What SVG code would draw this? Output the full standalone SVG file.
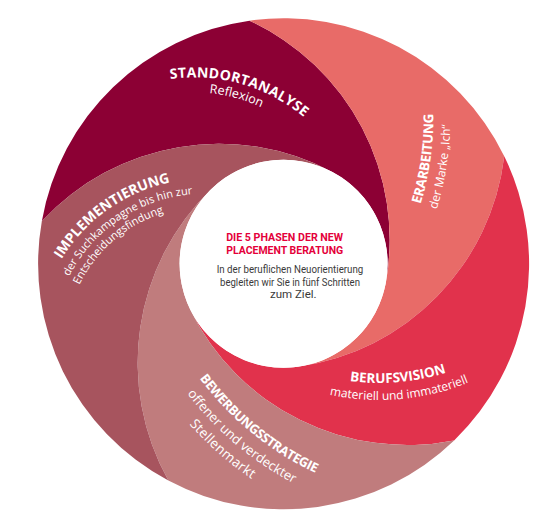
<svg xmlns="http://www.w3.org/2000/svg" width="559" height="519" viewBox="0 0 559 519">
<style>
.t{font-family:"Open Sans","Noto Sans",sans-serif;font-weight:700;fill:#fff}
.s{font-family:"Open Sans","Noto Sans",sans-serif;font-weight:400;fill:#fff}
.ct{font-family:Roboto,"Open Sans",sans-serif;font-weight:700;fill:#e4003a;font-size:10.3px}
.cb{font-family:Roboto,"Open Sans",sans-serif;font-weight:400;fill:#3a3a3a;font-size:11.5px}
</style>
<defs>
<path id="pStand" d="M 110.51 98.87 A 172 172 0 0 1 344.33 165.91"/>
<path id="pRefl" d="M 116.59 112.65 A 157 157 0 0 1 330.55 171.99"/>
<path id="pErar" d="M 393.1 267.9 A 300 300 0 0 0 424.4 45.3"/>
<path id="pMarke" d="M 405.0 281.2 A 317 317 0 0 0 442.2 46.6"/>
<path id="pBeruf" d="M 239.37 332.0 A 218 218 0 0 0 546.5 305.13"/>
<path id="pMat" d="M 228.45 345.02 A 235 235 0 0 0 559.52 316.05"/>
<path id="pBew" d="M 140.81 226.29 A 306 306 0 0 0 475.69 500.39"/>
<path id="pOff" d="M 121.44 223.10 A 325 325 0 0 0 472.50 519.76"/>
<path id="pStel" d="M 103.01 218.03 A 343 343 0 0 0 467.43 538.19"/>
<path id="pImpl" d="M 39.21 318.71 A 168.5 168.5 0 0 1 233.69 181.01"/>
<path id="pSuch" d="M 54.78 317.02 A 153.5 153.5 0 0 1 235.38 196.58"/>
<path id="pEnt" d="M 65.23 336.08 A 140.5 140.5 0 0 1 216.32 207.03"/>
</defs>
<g id="connectors"/>
<g id="standortanalyse">
<path fill="#8c0034" d="M 41.83 221.17 A 245.5 245.5 0 0 1 249.43 20.69 A 241.6 241.6 0 0 1 386.02 281.86 A 104 104 0 0 0 332.42 171.97 A 241.6 241.6 0 0 0 41.83 221.17 Z"/>
<text class="t" font-size="14" letter-spacing="0.3"><textPath href="#pStand" startOffset="50%" text-anchor="middle">STANDORTANALYSE</textPath></text>
<text class="s" font-size="12.5"><textPath href="#pRefl" startOffset="50%" text-anchor="middle">Reflexion</textPath></text>
</g>
<g id="erarbeitung">
<path fill="#e86b68" d="M 249.43 20.69 A 245.5 245.5 0 0 1 504.25 156.18 A 241.6 241.6 0 0 1 298.07 366.79 A 104 104 0 0 0 386.02 281.86 A 241.6 241.6 0 0 0 249.43 20.69 Z"/>
<text class="t" font-size="13.5" letter-spacing="-0.3"><textPath href="#pErar" startOffset="50%" text-anchor="middle">ERARBEITUNG</textPath></text>
<text class="s" font-size="12"><textPath href="#pMarke" startOffset="50%" text-anchor="middle">der Marke „Ich“</textPath></text>
</g>
<g id="berufsvision">
<path fill="#e1324c" d="M 504.25 156.18 A 245.5 245.5 0 0 1 454.14 440.40 A 241.6 241.6 0 0 1 190.13 309.39 A 104 104 0 0 0 298.07 366.79 A 241.6 241.6 0 0 0 504.25 156.18 Z"/>
<text class="t" font-size="13.5"><textPath href="#pBeruf" startOffset="50%" text-anchor="middle">BERUFSVISION</textPath></text>
<text class="s" font-size="12"><textPath href="#pMat" startOffset="50%" text-anchor="middle">materiell und immateriell</textPath></text>
</g>
<g id="bewerbungsstrategie">
<path fill="#c07c7d" d="M 454.14 440.40 A 245.5 245.5 0 0 1 168.35 480.56 A 241.6 241.6 0 0 1 211.36 188.99 A 104 104 0 0 0 190.13 309.39 A 241.6 241.6 0 0 0 454.14 440.40 Z"/>
<text class="t" font-size="13" letter-spacing="-0.4"><textPath href="#pBew" startOffset="50%" text-anchor="middle">BEWERBUNGSSTRATEGIE</textPath></text>
<text class="s" font-size="13"><textPath href="#pOff" startOffset="50%" text-anchor="middle">offener und verdeckter</textPath></text>
<text class="s" font-size="13.5" letter-spacing="0.3"><textPath href="#pStel" startOffset="50%" text-anchor="middle">Stellenmarkt</textPath></text>
</g>
<g id="implementierung">
<path fill="#a7545e" d="M 168.35 480.56 A 245.5 245.5 0 0 1 41.83 221.17 A 241.6 241.6 0 0 1 332.42 171.97 A 104 104 0 0 0 211.36 188.99 A 241.6 241.6 0 0 0 168.35 480.56 Z"/>
<text class="t" font-size="14"><textPath href="#pImpl" startOffset="50%" text-anchor="middle">IMPLEMENTIERUNG</textPath></text>
<text class="s" font-size="11"><textPath href="#pSuch" startOffset="50%" text-anchor="middle">der Suchkampagne bis hin zur</textPath></text>
<text class="s" font-size="11"><textPath href="#pEnt" startOffset="50%" text-anchor="middle">Entscheidungsfindung</textPath></text>
</g>
<g id="center">
<circle cx="283.6" cy="263.8" r="104" fill="#fff"/>
<text class="ct" x="284.7" y="240.7" text-anchor="middle" textLength="117" lengthAdjust="spacingAndGlyphs">DIE 5 PHASEN DER NEW</text>
<text class="ct" x="284.7" y="254.3" text-anchor="middle" textLength="117" lengthAdjust="spacingAndGlyphs">PLACEMENT BERATUNG</text>
<text class="cb" x="290" y="272.7" text-anchor="middle" textLength="146.6" lengthAdjust="spacingAndGlyphs">In der beruflichen Neuorientierung</text>
<text class="cb" x="290" y="285.7" text-anchor="middle" textLength="140" lengthAdjust="spacingAndGlyphs">begleiten wir Sie in fünf Schritten</text>
<text class="cb" x="293.3" y="297.7" text-anchor="middle" textLength="46.7" lengthAdjust="spacingAndGlyphs">zum Ziel.</text>
</g>
</svg>
